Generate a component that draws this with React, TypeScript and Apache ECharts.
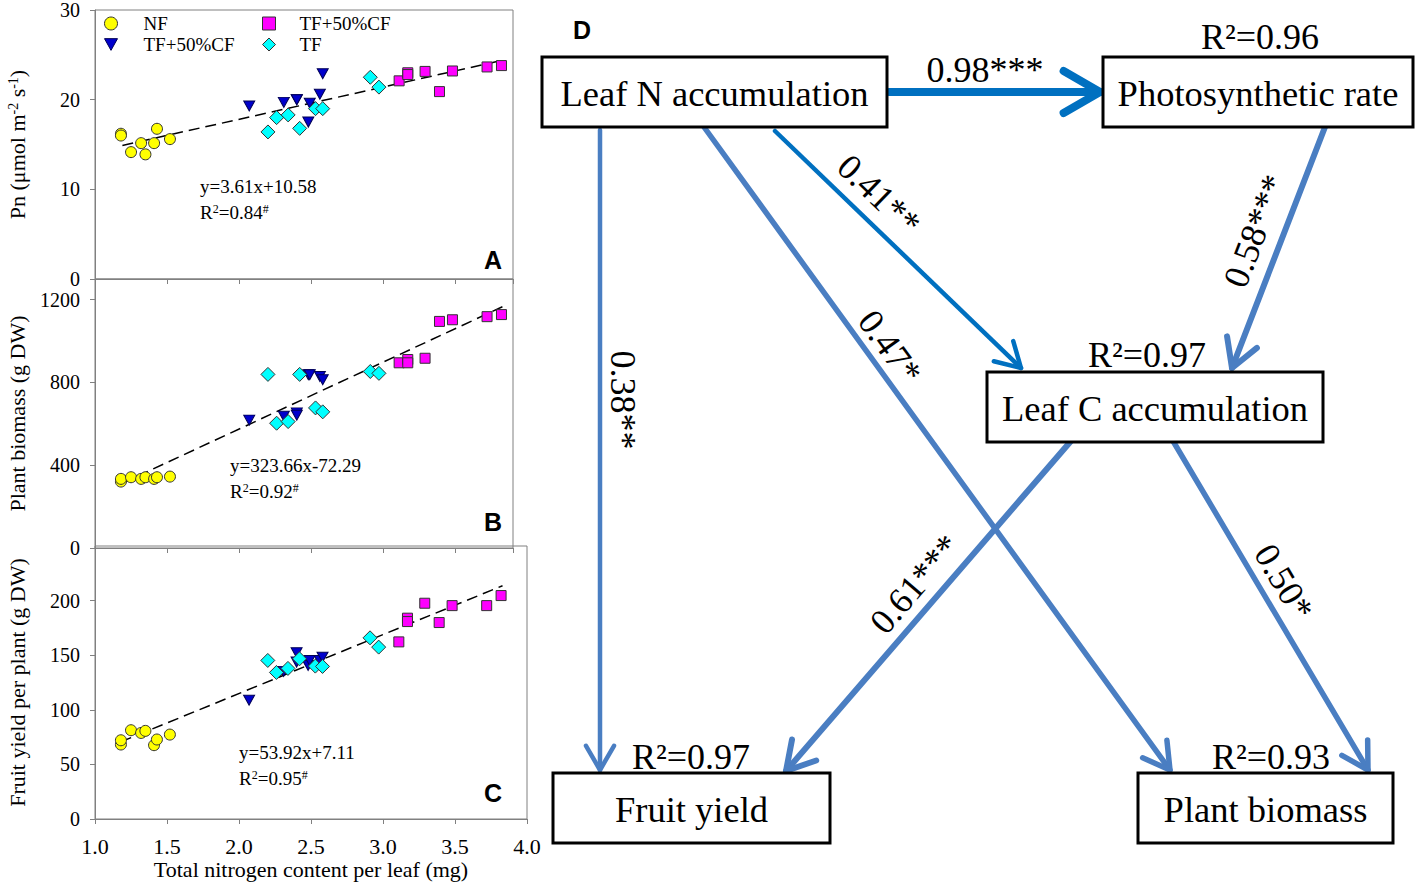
import React, { useEffect, useRef } from "react";
import * as echarts from "echarts";

// ---------------- data (panels A–C) ----------------
const GROUP_NAMES = ["NF", "TF+50%CF", "TF+50%CF", "TF"]; // circle, triangle, square, diamond

const X_NF = [1.18, 1.18, 1.25, 1.32, 1.35, 1.41, 1.43, 1.52];
const X_TRI = [2.07, 2.31, 2.4, 2.4, 2.48, 2.49, 2.56, 2.58];
const X_SQ = [3.11, 3.17, 3.17, 3.29, 3.39, 3.48, 3.72, 3.82];
const X_DIA = [2.2, 2.26, 2.34, 2.42, 2.53, 2.58, 2.91, 2.97];

// Panel A: Pn
const PN_NF = [16.2, 16.0, 14.15, 15.15, 13.9, 15.15, 16.75, 15.6];
const PN_TRI = [19.3, 19.7, 20.0, 20.0, 17.5, 19.6, 20.6, 22.9];
const PN_SQ = [22.1, 23.0, 22.8, 23.15, 20.9, 23.2, 23.65, 23.8];
const PN_DIA = [16.4, 18.0, 18.3, 16.8, 19.0, 19.0, 22.5, 21.4];
const PN_FIT = [[1.19, 14.9], [3.83, 24.4]];

// Panel B: plant biomass
const BM_NF = [321, 334, 342, 334, 342, 334, 342, 345];
const BM_TRI = [618, 637, 653, 642, 837, 837, 829, 813];
const BM_SQ = [895, 911, 895, 917, 1095, 1103, 1118, 1128];
const BM_DIA = [839, 603, 611, 839, 677, 658, 853, 844];
const BM_FIT = [[1.19, 313], [3.83, 1167]];

// Panel C: fruit yield
const FY_NF = [68.2, 72.1, 81.3, 78.8, 80.7, 67.6, 72.8, 77.3];
const FY_TRI = [108.7, 135.2, 152.2, 143.7, 140.6, 145.2, 145.2, 148.2];
const FY_SQ = [162.2, 183.9, 180.8, 197.6, 179.9, 195.4, 195.4, 204.6];
const FY_DIA = [145.2, 134.2, 137.9, 146.7, 140.0, 139.7, 165.9, 157.4];
const FY_FIT = [[1.18, 70.7], [3.83, 213.6]];

const FIT_EQ = ["y=3.61x+10.58", "y=323.66x-72.29", "y=53.92x+7.11"];
const FIT_R2 = ["0.84", "0.92", "0.95"];
const PANEL_LETTERS = ["A", "B", "C"];

const Y_MAX = [30, 1300, 250];
const Y_INTERVAL = [10, 400, 50];
const X_MAX = [3.9, 3.9, 4.0];
const Y_NAMES = ["Pn (μmol m{s|-2} s{s|-1})", "Plant biomass (g DW)", "Fruit yield per plant (g DW)"];
const X_NAME = "Total nitrogen content per leaf (mg)";

// ---------------- data (panel D) ----------------
const NODE_NAMES = ["Leaf N accumulation", "Photosynthetic rate", "Leaf C accumulation", "Fruit yield", "Plant biomass"];
const NODE_R2 = [null, "0.96", "0.97", "0.97", "0.93"];
const PATH_FROM = [0, 0, 0, 0, 1, 2, 2];
const PATH_TO = [1, 2, 4, 3, 2, 3, 4];
const PATH_COEF = ["0.98", "0.41", "0.47", "0.38", "0.58", "0.61", "0.50"];
const PATH_SIG = ["***", "**", "*", "**", "***", "***", "*"];

// ---------------- layout / style ----------------
const SERIF = "Liberation Serif";
const SANS = "Liberation Sans";
const AXIS_GRAY = "#808080";
const GRID_BOX = [
  [95, 9, 418, 270],
  [95, 279, 418, 269],
  [95, 546, 432, 273],
];
const ANNOT_POS = [
  [200, 186],
  [230, 465],
  [239, 752],
];
const LETTER_POS = [
  [493, 260],
  [493, 522],
  [493, 793],
];
const TRI_PATH = "path://M0,0L10,0L5,9Z";
const GROUP_STYLE = [
  { symbol: "circle", size: 11, color: "#FFFF00", border: "#333333" },
  { symbol: TRI_PATH, size: [11, 10], color: "#0000CC", border: "#000055" },
  { symbol: "rect", size: 10, color: "#FF00FF", border: "#333333" },
  { symbol: "diamond", size: 14, color: "#00FFFF", border: "#333333" },
];

const NODE_BOX = [
  [542, 57, 345, 70],
  [1103, 57, 310, 70],
  [987, 372, 336, 70],
  [553, 773, 277, 70],
  [1138, 773, 255, 70],
];
const R2_POS = [null, [1260, 37], [1147, 355], [691, 757], [1271, 757]];
const EDGE_LINE = [
  [889, 92, 1100, 92],
  [775, 131, 1021, 368],
  [704, 127, 1170, 770],
  [600, 130, 600, 770],
  [1325, 127, 1232, 368],
  [1071, 441, 786, 771],
  [1173, 441, 1368, 770],
];
const EDGE_W = [8, 4.5, 5.5, 4.5, 6, 6, 5.5];
const STEEL = "#4A7EC2";
const STRONG = "#0070C0";
const EDGE_COLOR = [STRONG, STRONG, STEEL, STEEL, STEEL, STEEL, STEEL];
const EDGE_HEAD = [42, 28, 30, 28, 32, 32, 30];
const LABEL_POS = [
  [985, 70, 0],
  [879, 195, -43.8],
  [890, 347, -54.2],
  [623, 400, -90],
  [1255, 231, 69],
  [915, 584, 49.3],
  [1284, 582, -59.5],
];

const zip = (xs: number[], ys: number[]) => xs.map((x, i) => [x, ys[i]]);

function buildOption() {
  const panelY = [
    [PN_NF, PN_TRI, PN_SQ, PN_DIA],
    [BM_NF, BM_TRI, BM_SQ, BM_DIA],
    [FY_NF, FY_TRI, FY_SQ, FY_DIA],
  ];
  const groupX = [X_NF, X_TRI, X_SQ, X_DIA];
  const fits = [PN_FIT, BM_FIT, FY_FIT];

  const grid = GRID_BOX.map(([l, t, w, h]) => ({
    left: l,
    top: t,
    width: w,
    height: h,
    show: true,
    borderColor: AXIS_GRAY,
    borderWidth: 1,
  }));

  const xAxis = [0, 1, 2].map((i) => ({
    gridIndex: i,
    type: "value",
    min: 1,
    max: X_MAX[i],
    interval: 0.5,
    axisLine: { show: true, lineStyle: { color: AXIS_GRAY, width: 1 } },
    axisTick: { show: true, inside: false, length: 5, lineStyle: { color: AXIS_GRAY } },
    splitLine: { show: false },
    axisLabel:
      i === 2
        ? {
            show: true,
            fontFamily: SERIF,
            fontSize: 22,
            color: "#000",
            margin: 16,
            formatter: (v: number) => v.toFixed(1),
          }
        : { show: false },
    name: i === 2 ? X_NAME : "",
    nameLocation: "middle",
    nameGap: 39,
    nameTextStyle: { fontFamily: SERIF, fontSize: 22, color: "#000" },
  }));

  const yAxis = [0, 1, 2].map((i) => ({
    gridIndex: i,
    type: "value",
    min: 0,
    max: Y_MAX[i],
    interval: Y_INTERVAL[i],
    axisLine: { show: true, lineStyle: { color: AXIS_GRAY, width: 1 } },
    axisTick: { show: true, inside: false, length: 5, lineStyle: { color: AXIS_GRAY } },
    splitLine: { show: false },
    axisLabel: {
      fontFamily: SERIF,
      fontSize: 20,
      color: "#000",
      margin: 15,
      showMaxLabel: i === 0,
      formatter: (v: number) => String(v),
    },
    name: Y_NAMES[i],
    nameLocation: "middle",
    nameGap: 67,
    nameTextStyle: {
      fontFamily: SERIF,
      fontSize: 22,
      color: "#000",
      rich: { s: { fontFamily: SERIF, fontSize: 14, color: "#000", verticalAlign: "top" } },
    },
  }));

  const series: any[] = [];
  for (let p = 0; p < 3; p++) {
    series.push({
      type: "line",
      xAxisIndex: p,
      yAxisIndex: p,
      data: fits[p],
      symbol: "none",
      silent: true,
      z: 2,
      lineStyle: { color: "#000", width: 1.5, type: [11, 6] },
    });
    for (let g = 0; g < 4; g++) {
      const st = GROUP_STYLE[g];
      series.push({
        type: "scatter",
        name: GROUP_NAMES[g],
        xAxisIndex: p,
        yAxisIndex: p,
        data: zip(groupX[g], panelY[p][g]),
        symbol: st.symbol,
        symbolSize: st.size,
        z: 3,
        itemStyle: { color: st.color, borderColor: st.border, borderWidth: 1, opacity: 1 },
      });
    }
  }

  const legendItem = (g: number) => ({
    name: GROUP_NAMES[g],
    icon: GROUP_STYLE[g].symbol,
    itemStyle: { color: GROUP_STYLE[g].color, borderColor: GROUP_STYLE[g].border, borderWidth: 1 },
  });
  const legendBase = {
    orient: "vertical",
    top: 14,
    padding: 0,
    itemGap: 2,
    itemWidth: 13,
    itemHeight: 13,
    selectedMode: false,
    textStyle: { fontFamily: SERIF, fontSize: 19, color: "#000" },
  };
  const legend = [
    { ...legendBase, left: 104, textStyle: { ...legendBase.textStyle, padding: [0, 0, 0, 21] }, data: [legendItem(0), legendItem(1)] },
    { ...legendBase, left: 262, textStyle: { ...legendBase.textStyle, padding: [0, 0, 0, 19] }, data: [legendItem(2), legendItem(3)] },
  ];

  const graphic: any[] = [];
  // regression annotations + panel letters
  for (let p = 0; p < 3; p++) {
    const [ax, ay] = ANNOT_POS[p];
    graphic.push({
      type: "text",
      x: ax,
      y: ay,
      style: {
        text: FIT_EQ[p],
        fontFamily: SERIF,
        fontSize: 19,
        fill: "#000",
        align: "left",
        verticalAlign: "middle",
        textAlign: "left",
        textVerticalAlign: "middle",
      },
    });
    graphic.push({
      type: "text",
      x: ax,
      y: ay + 26,
      style: {
        text: "R{s|2}=" + FIT_R2[p] + "{s|#}",
        fontFamily: SERIF,
        fontSize: 19,
        fill: "#000",
        align: "left",
        verticalAlign: "middle",
        textAlign: "left",
        textVerticalAlign: "middle",
        rich: { s: { fontFamily: SERIF, fontSize: 12, fill: "#000", verticalAlign: "top" } },
      },
    });
    graphic.push({
      type: "text",
      x: LETTER_POS[p][0],
      y: LETTER_POS[p][1],
      style: {
        text: PANEL_LETTERS[p],
        fontFamily: SANS,
        fontWeight: "bold",
        fontSize: 25,
        fill: "#000",
        align: "center",
        verticalAlign: "middle",
        textAlign: "center",
        textVerticalAlign: "middle",
      },
    });
  }

  // panel D
  graphic.push({
    type: "text",
    x: 582,
    y: 30,
    style: {
      text: "D",
      fontFamily: SANS,
      fontWeight: "bold",
      fontSize: 25,
      fill: "#000",
      align: "center",
      verticalAlign: "middle",
      textAlign: "center",
      textVerticalAlign: "middle",
    },
  });

  for (let e = 0; e < PATH_COEF.length; e++) {
    const [x1, y1, x2, y2] = EDGE_LINE[e];
    const dx = x1 - x2;
    const dy = y1 - y2;
    const L = Math.hypot(dx, dy);
    const ux = dx / L;
    const uy = dy / L;
    const a = (30 * Math.PI) / 180;
    const h = EDGE_HEAD[e];
    const arm = (s: number) => [
      x2 + h * (ux * Math.cos(s * a) - uy * Math.sin(s * a)),
      y2 + h * (ux * Math.sin(s * a) + uy * Math.cos(s * a)),
    ];
    const st = { stroke: EDGE_COLOR[e], lineWidth: EDGE_W[e], lineCap: "round", lineJoin: "round" };
    graphic.push({ type: "line", z: 10, shape: { x1, y1, x2, y2 }, style: { ...st } });
    graphic.push({ type: "polyline", z: 10, shape: { points: [arm(1), [x2, y2], arm(-1)] }, style: { ...st, fill: null } });
    const [lx, ly, rot] = LABEL_POS[e];
    graphic.push({
      type: "text",
      z: 12,
      x: lx,
      y: ly,
      rotation: (rot * Math.PI) / 180,
      style: {
        text: PATH_COEF[e] + PATH_SIG[e],
        fontFamily: SERIF,
        fontSize: 36,
        fill: "#000",
        align: "center",
        verticalAlign: "middle",
        textAlign: "center",
        textVerticalAlign: "middle",
      },
    });
  }

  for (let n = 0; n < NODE_NAMES.length; n++) {
    const [bx, by, bw, bh] = NODE_BOX[n];
    graphic.push({
      type: "rect",
      z: 20,
      shape: { x: bx, y: by, width: bw, height: bh },
      style: { fill: "#fff", stroke: "#000", lineWidth: 3 },
    });
    graphic.push({
      type: "text",
      z: 21,
      x: bx + bw / 2,
      y: by + bh / 2 + 1,
      style: {
        text: NODE_NAMES[n],
        fontFamily: SERIF,
        fontSize: 36.5,
        fill: "#000",
        align: "center",
        verticalAlign: "middle",
        textAlign: "center",
        textVerticalAlign: "middle",
      },
    });
    const r = R2_POS[n];
    if (r && NODE_R2[n]) {
      graphic.push({
        type: "text",
        z: 22,
        x: r[0],
        y: r[1],
        style: {
          text: "R²=" + NODE_R2[n],
          fontFamily: SERIF,
          fontSize: 36,
          fill: "#000",
          align: "center",
          verticalAlign: "middle",
          textAlign: "center",
          textVerticalAlign: "middle",
        },
      });
    }
  }

  return {
    animation: false,
    backgroundColor: "#ffffff",
    textStyle: { fontFamily: SERIF },
    grid,
    xAxis,
    yAxis,
    legend,
    series,
    graphic,
  };
}

export default function App() {
  const ref = useRef<HTMLDivElement>(null);
  useEffect(() => {
    if (!ref.current) return;
    const chart = echarts.init(ref.current, null, { renderer: "svg" });
    chart.setOption(buildOption() as any);
    return () => chart.dispose();
  }, []);
  return (
    <div
      ref={ref}
      style={{ position: "absolute", left: 0, top: 0, width: 1417, height: 883, background: "#fff" }}
    />
  );
}
